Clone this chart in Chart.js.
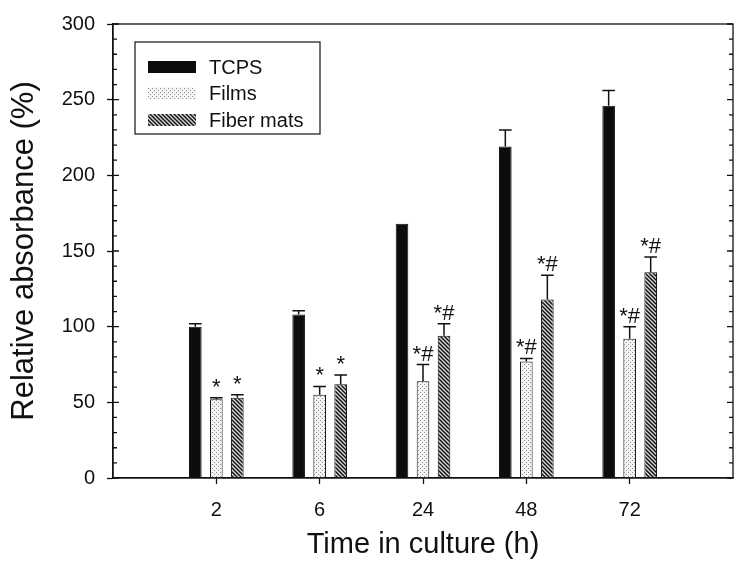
<!DOCTYPE html>
<html>
<head>
<meta charset="utf-8">
<script src="https://cdn.jsdelivr.net/npm/chart.js@4.4.0/dist/chart.umd.min.js"></script>
<style>
  html, body { margin: 0; padding: 0; background: #fff; }
  #wrap { width: 736px; height: 568px; }
</style>
</head>
<body>
<div id="wrap"><canvas id="chart"></canvas></div>
<script>
const hours = ['2', '6', '24', '48', '72'];
const tcps = [100, 108, 168, 219, 246];
const tcpsErr = [2, 2.5, 0, 11, 10];
const films = [52, 55, 64, 77, 92];
const filmsErr = [1, 5.5, 11, 2, 8];
const fibers = [53, 62, 94, 118, 136];
const fibersErr = [2, 6, 8, 16, 10];
const filmsMarks = ['*', '*', '*#', '*#', '*#'];
const fibersMarks = ['*', '*', '*#', '*#', '*#'];
const yTicks = [0, 50, 100, 150, 200, 250, 300];

const FONT = '"Liberation Sans", Arial, sans-serif';
const INK = '#111';

// one empty slot on each side, like the original axis
const pad = (arr, fill) => [fill, ...arr, fill];
const labels = pad(hours, '');

const canvas = document.getElementById('chart');
const ctx0 = canvas.getContext('2d');

function dotPattern() {
  const c = document.createElement('canvas');
  c.width = 4;
  c.height = 4;
  const g = c.getContext('2d');
  g.fillStyle = '#f4f4f4';
  g.fillRect(0, 0, 4, 4);
  g.fillStyle = '#8c8c8c';
  g.fillRect(0, 0, 1, 1);
  g.fillRect(2, 2, 1, 1);
  return ctx0.createPattern(c, 'repeat');
}

function hatchPattern() {
  const c = document.createElement('canvas');
  c.width = 4;
  c.height = 4;
  const g = c.getContext('2d');
  g.fillStyle = '#d8d8d8';
  g.fillRect(0, 0, 4, 4);
  g.strokeStyle = '#151515';
  g.lineWidth = 1.5;
  g.beginPath();
  g.moveTo(-1, -1); g.lineTo(5, 5);
  g.moveTo(3, -1); g.lineTo(5, 1);
  g.moveTo(-1, 3); g.lineTo(1, 5);
  g.stroke();
  return ctx0.createPattern(c, 'repeat');
}

const errorBars = {
  id: 'errorBars',
  afterDatasetsDraw(chart) {
    const { ctx, scales: { y } } = chart;
    ctx.save();
    ctx.strokeStyle = INK;
    ctx.fillStyle = INK;
    ctx.lineWidth = 1.5;
    ctx.font = '22px ' + FONT;
    ctx.textAlign = 'center';
    ctx.textBaseline = 'alphabetic';
    chart.data.datasets.forEach((ds, i) => {
      const meta = chart.getDatasetMeta(i);
      meta.data.forEach((bar, j) => {
        const v = ds.data[j];
        if (v == null) return;
        const err = ds.errors[j] || 0;
        const top = y.getPixelForValue(v + err);
        if (err) {
          const half = bar.width / 2;
          ctx.beginPath();
          ctx.moveTo(bar.x, bar.y);
          ctx.lineTo(bar.x, top);
          ctx.moveTo(bar.x - half, top);
          ctx.lineTo(bar.x + half, top);
          ctx.stroke();
        }
        const mark = ds.marks && ds.marks[j];
        if (mark) ctx.fillText(mark, bar.x, top - 4);
      });
    });
    ctx.restore();
  },
};

const frame = {
  id: 'frame',
  afterDraw(chart) {
    const {
      ctx,
      chartArea: { left, top, right, bottom },
      scales: { y },
    } = chart;
    ctx.save();
    ctx.strokeStyle = INK;
    ctx.lineWidth = 1.3;
    ctx.strokeRect(left, top, right - left, bottom - top);
    ctx.beginPath();
    for (let v = y.min; v <= y.max; v += 10) {
      const py = y.getPixelForValue(v);
      const len = v % 50 === 0 ? 6 : 4;
      ctx.moveTo(left, py);
      ctx.lineTo(left + len, py);
      ctx.moveTo(right, py);
      ctx.lineTo(right - len, py);
    }
    ctx.stroke();
    ctx.restore();
  },
};

const boxLegend = {
  id: 'boxLegend',
  afterDraw(chart) {
    const { ctx, chartArea: { left, top } } = chart;
    const x0 = left + 22;
    const y0 = top + 18;
    ctx.save();
    ctx.fillStyle = '#fff';
    ctx.fillRect(x0, y0, 185, 92);
    ctx.strokeStyle = INK;
    ctx.lineWidth = 1.2;
    ctx.strokeRect(x0, y0, 185, 92);
    ctx.font = '20px ' + FONT;
    ctx.textBaseline = 'middle';
    chart.data.datasets.forEach((ds, i) => {
      const cy = y0 + 25 + i * 26.5;
      ctx.fillStyle = ds.backgroundColor;
      ctx.fillRect(x0 + 13, cy - 6, 48, 12);
      ctx.fillStyle = INK;
      ctx.fillText(ds.label, x0 + 74, cy + 1);
    });
    ctx.restore();
  },
};

const barStyle = {
  borderColor: INK,
  borderWidth: 1,
  categoryPercentage: 0.61,
  barPercentage: 0.6,
};

new Chart(canvas, {
  type: 'bar',
  data: {
    labels: labels,
    datasets: [
      {
        label: 'TCPS',
        data: pad(tcps, null),
        errors: pad(tcpsErr, 0),
        backgroundColor: '#0c0c0c',
        ...barStyle,
      },
      {
        label: 'Films',
        data: pad(films, null),
        errors: pad(filmsErr, 0),
        marks: pad(filmsMarks, ''),
        backgroundColor: dotPattern(),
        ...barStyle,
      },
      {
        label: 'Fiber mats',
        data: pad(fibers, null),
        errors: pad(fibersErr, 0),
        marks: pad(fibersMarks, ''),
        backgroundColor: hatchPattern(),
        ...barStyle,
      },
    ],
  },
  options: {
    responsive: true,
    maintainAspectRatio: false,
    animation: false,
    layout: { padding: { top: 24, right: 3, left: 0, bottom: 0 } },
    scales: {
      x: {
        offset: false,
        afterFit: (scale) => {
          scale.height = 90;
          scale.paddingLeft = 0;
          scale.paddingRight = 0;
        },
        grid: {
          offset: false,
          drawOnChartArea: false,
          tickLength: 6,
          tickWidth: 1.3,
          tickColor: (c) => (labels[c.index] ? INK : 'transparent'),
        },
        border: { color: INK, width: 1.3 },
        ticks: {
          autoSkip: false,
          maxRotation: 0,
          padding: 14,
          color: INK,
          font: { size: 20, family: FONT },
        },
        title: {
          display: true,
          text: 'Time in culture (h)',
          color: INK,
          font: { size: 29, family: FONT },
          padding: { top: 0, bottom: 6 },
        },
      },
      y: {
        min: 0,
        max: 300,
        afterFit: (scale) => {
          scale.width = 113;
        },
        afterBuildTicks: (scale) => {
          scale.ticks = yTicks.map((v) => ({ value: v }));
        },
        grid: {
          drawOnChartArea: false,
          tickLength: 6,
          tickWidth: 1.3,
          tickColor: INK,
        },
        border: { color: INK, width: 1.3 },
        ticks: {
          padding: 12,
          color: INK,
          font: { size: 20, family: FONT },
        },
        title: {
          display: true,
          text: 'Relative absorbance (%)',
          color: INK,
          font: { size: 31, family: FONT },
          padding: { top: 6, bottom: 0 },
        },
      },
    },
    plugins: {
      legend: { display: false },
      tooltip: { enabled: false },
    },
  },
  plugins: [errorBars, frame, boxLegend],
});
</script>
</body>
</html>
